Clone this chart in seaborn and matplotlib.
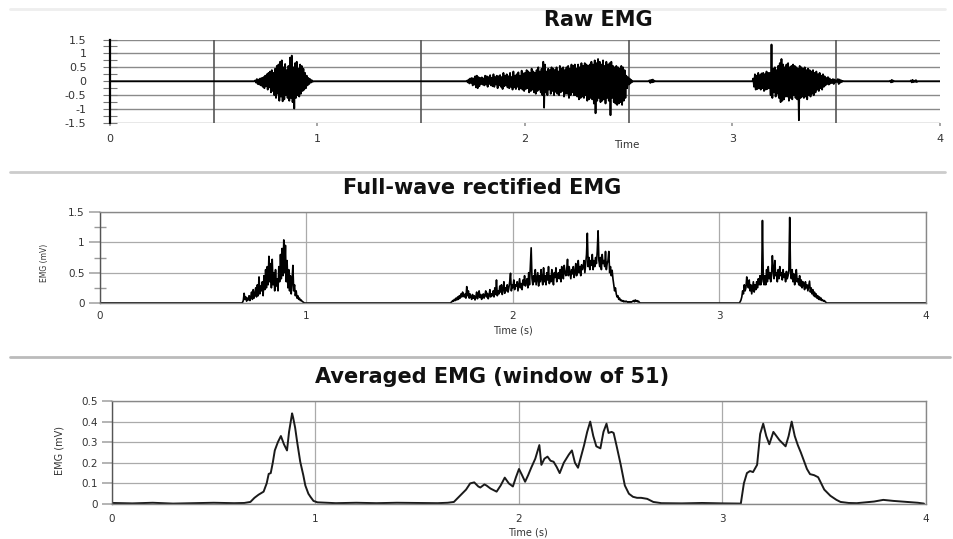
import numpy as np
import pandas as pd
import matplotlib
matplotlib.use("Agg")
import matplotlib.pyplot as plt
import seaborn as sns
from matplotlib.lines import Line2D
from matplotlib.ticker import MultipleLocator, FuncFormatter

# ---------------- data ----------------
DT = 0.004  # sample interval of the bursts (s)

# Raw EMG: bursts (start time, samples) plus small blips; baseline is 0
raw_starts = [0.70, 1.72, 2.60, 3.10, 3.76, 3.86]
raw_burst_1 = [0.03, -0.05, 0.08, -0.1, 0.06, -0.12, 0.1, -0.15, 0.12, -0.2,
               0.15, -0.25, 0.2, -0.18, 0.25, -0.3, 0.3, -0.22, 0.35, -0.4,
               0.4, -0.35, 0.3, -0.5, 0.45, -0.6, 0.55, -0.45, 0.6, -0.7,
               0.7, -0.55, 0.75, -0.72, 0.5, -0.65, 0.62, -0.5, 0.4, -0.6,
               0.55, -0.7, 0.85, -0.6, 0.92, -0.75, 0.5, -0.98, 0.65, -0.6,
               0.7, -0.5, 0.45, -0.55, 0.6, -0.45, 0.55, -0.35, 0.45, -0.3,
               0.3, -0.25, 0.2, -0.15, 0.12, -0.1, 0.08, -0.05, 0.04, -0.02]
raw_burst_2 = [0.02, -0.04, 0.06, -0.08, 0.1, -0.06, 0.12, -0.15, 0.1, -0.12,
               0.18, -0.22, 0.2, -0.25, 0.15, -0.18, 0.12, -0.1, 0.14, -0.12,
               0.1, -0.15, 0.2, -0.12, 0.18, -0.2, 0.15, -0.1, 0.22, -0.15,
               0.12, -0.18, 0.25, -0.2, 0.15, -0.12, 0.2, -0.25, 0.18, -0.15,
               0.22, -0.2, 0.15, -0.28, 0.3, -0.18, 0.2, -0.15, 0.25, -0.22,
               0.18, -0.25, 0.3, -0.2, 0.15, -0.3, 0.35, -0.22, 0.2, -0.28,
               0.25, -0.2, 0.32, -0.3, 0.2, -0.25, 0.38, -0.3, 0.28, -0.35,
               0.3, -0.28, 0.4, -0.25, 0.35, -0.4, 0.3, -0.35, 0.45, -0.3,
               0.35, -0.4, 0.3, -0.45, 0.4, -0.35, 0.5, -0.3, 0.35, -0.4,
               0.45, -0.5, 0.7, -0.95, 0.6, -0.4, 0.35, -0.5, 0.45, -0.3,
               0.4, -0.45, 0.5, -0.35, 0.45, -0.5, 0.4, -0.38, 0.5, -0.45,
               0.35, -0.5, 0.55, -0.4, 0.45, -0.35, 0.5, -0.55, 0.4, -0.45,
               0.5, -0.45, 0.55, -0.6, 0.45, -0.5, 0.6, -0.4, 0.55, -0.5,
               0.6, -0.5, 0.45, -0.55, 0.6, -0.65, 0.5, -0.6, 0.65, -0.55,
               0.55, -0.6, 0.65, -0.5, 0.6, -0.7, 0.55, -0.65, 0.6, -0.6,
               0.7, -0.65, 0.6, -0.8, 0.75, -1.15, 0.65, -0.7, 0.8, -0.6,
               0.7, -0.75, 0.6, -0.7, 0.75, -0.65, 0.55, -0.8, 0.7, -0.6,
               0.6, -0.7, 0.65, -1.22, 0.7, -0.6, 0.55, -0.75, 0.5, -0.8,
               0.55, -0.85, 0.5, -0.8, 0.45, -0.75, 0.55, -0.85, 0.5, -0.7,
               0.4, -0.6, 0.2, -0.25, 0.15, -0.12, 0.1, -0.08, 0.05, -0.03]
raw_blip_a = [0.03, -0.06, 0.05, -0.04, 0.06, -0.03, 0.02]
raw_burst_3 = [0.1, -0.2, 0.25, -0.3, 0.2, -0.28, 0.3, -0.25, 0.22, -0.3,
               0.28, -0.25, 0.3, -0.35, 0.25, -0.3, 0.35, -0.28, 0.3, -0.25,
               0.3, -0.5, 1.32, -0.6, 0.45, -0.4, 0.5, -0.55, 0.4, -0.45,
               0.55, -0.6, 0.65, -0.75, 0.8, -0.7, 0.6, -0.65, 0.5, -0.55,
               0.6, -0.55, 0.65, -0.7, 0.5, -0.6, 0.55, -0.65, 0.6, -0.5,
               0.55, -0.6, 0.5, -0.65, 0.45, -1.4, 0.55, -0.6, 0.5, -0.55,
               0.45, -0.6, 0.5, -0.55, 0.4, -0.65, 0.45, -0.5, 0.4, -0.55,
               0.35, -0.45, 0.4, -0.5, 0.3, -0.4, 0.35, -0.3, 0.25, -0.35,
               0.3, -0.25, 0.2, -0.3, 0.25, -0.2, 0.18, -0.15, 0.12, -0.1,
               0.15, -0.12, 0.1, -0.08, 0.05, -0.06, 0.08, -0.1, 0.06, -0.04,
               0.03, -0.02, 0.08, -0.1, 0.06, -0.05, 0.03, -0.02, 0.01, 0.0]
raw_blip_b = [0.02, -0.04, 0.05, -0.03, 0.02]
raw_blip_c = [0.03, -0.04, 0.05, -0.03, 0.02, -0.02, 0.04, -0.03]
raw_bursts = [raw_burst_1, raw_burst_2, raw_blip_a, raw_burst_3, raw_blip_b, raw_blip_c]

# Full-wave rectified EMG
rect_starts = [0.69, 1.70, 3.10]
rect_burst_1 = [0.01, 0.04, 0.16, 0.06, 0.1, 0.03, 0.08, 0.05, 0.12, 0.04,
                0.1, 0.18, 0.06, 0.22, 0.08, 0.15, 0.25, 0.1, 0.3, 0.12,
                0.43, 0.15, 0.28, 0.2, 0.35, 0.12, 0.45, 0.22, 0.55, 0.25,
                0.6, 0.3, 0.77, 0.35, 0.65, 0.25, 0.72, 0.3, 0.5, 0.2,
                0.55, 0.28, 0.4, 0.2, 0.6, 0.35, 0.8, 0.4, 0.9, 0.45,
                1.04, 0.5, 0.95, 0.35, 0.7, 0.25, 0.55, 0.2, 0.45, 0.15,
                0.35, 0.62, 0.2, 0.3, 0.12, 0.2, 0.08, 0.12, 0.06, 0.08,
                0.04, 0.05, 0.03, 0.02, 0.01]
rect_burst_2 = [0.01, 0.02, 0.04, 0.03, 0.06, 0.04, 0.08, 0.05, 0.1, 0.06,
                0.12, 0.08, 0.15, 0.1, 0.18, 0.12, 0.1, 0.15, 0.08, 0.27,
                0.12, 0.2, 0.08, 0.15, 0.1, 0.06, 0.14, 0.08, 0.12, 0.05,
                0.1, 0.18, 0.07, 0.12, 0.2, 0.09, 0.14, 0.06, 0.11, 0.15,
                0.08, 0.13, 0.2, 0.1, 0.16, 0.07, 0.12, 0.22, 0.1, 0.15,
                0.12, 0.2, 0.1, 0.25, 0.14, 0.38, 0.12, 0.2, 0.15, 0.28,
                0.18, 0.3, 0.14, 0.22, 0.35, 0.16, 0.25, 0.2, 0.3, 0.18,
                0.25, 0.35, 0.49, 0.2, 0.3, 0.25, 0.38, 0.22, 0.3, 0.28,
                0.35, 0.2, 0.3, 0.4, 0.25, 0.32, 0.22, 0.38, 0.3, 0.45,
                0.28, 0.35, 0.4, 0.25, 0.5, 0.3, 0.6, 0.91, 0.4, 0.3,
                0.45, 0.35, 0.55, 0.3, 0.4, 0.5, 0.28, 0.45, 0.35, 0.55,
                0.4, 0.3, 0.58, 0.35, 0.45, 0.3, 0.5, 0.38, 0.6, 0.32,
                0.45, 0.35, 0.55, 0.4, 0.3, 0.5, 0.42, 0.58, 0.35, 0.45,
                0.5, 0.4, 0.55, 0.35, 0.6, 0.45, 0.4, 0.62, 0.5, 0.45,
                0.55, 0.72, 0.45, 0.6, 0.5, 0.4, 0.55, 0.48, 0.6, 0.42,
                0.5, 0.65, 0.45, 0.55, 0.7, 0.5, 0.6, 0.45, 0.63, 0.55,
                0.6, 0.7, 0.5, 0.65, 0.8, 1.15, 0.6, 0.75, 0.55, 0.7,
                0.62, 0.8, 0.55, 0.7, 0.6, 0.75, 0.65, 0.85, 1.19, 0.7,
                0.6, 0.75, 0.55, 0.8, 0.65, 0.7, 0.6, 0.85, 0.55, 0.65,
                0.7, 0.85, 0.5, 0.6, 0.45, 0.54, 0.4, 0.3, 0.2, 0.25,
                0.15, 0.1, 0.12, 0.06, 0.08, 0.04, 0.05, 0.03, 0.04, 0.02,
                0.03, 0.02, 0.03, 0.02, 0.01, 0.02, 0.01, 0.02, 0.01, 0.02,
                0.03, 0.04, 0.02, 0.05, 0.03, 0.04, 0.02, 0.03, 0.01, 0.0]
rect_burst_3 = [0.02, 0.05, 0.1, 0.2, 0.15, 0.3, 0.2, 0.25, 0.43, 0.3,
                0.25, 0.38, 0.2, 0.3, 0.15, 0.25, 0.35, 0.18, 0.3, 0.22,
                0.35, 0.25, 0.4, 0.3, 0.45, 0.3, 0.35, 1.36, 0.4, 0.3,
                0.45, 0.3, 0.55, 0.35, 0.6, 0.4, 0.5, 0.35, 0.45, 0.78,
                0.55, 0.4, 0.7, 0.45, 0.5, 0.35, 0.55, 0.4, 0.6, 0.45,
                0.5, 0.38, 0.55, 0.42, 0.48, 0.35, 0.52, 0.4, 0.45, 0.55,
                1.41, 0.5, 0.4, 0.55, 0.35, 0.48, 0.3, 0.45, 0.55, 0.35,
                0.4, 0.3, 0.45, 0.28, 0.38, 0.25, 0.35, 0.3, 0.22, 0.35,
                0.25, 0.3, 0.2, 0.28, 0.36, 0.18, 0.25, 0.15, 0.22, 0.12,
                0.18, 0.1, 0.15, 0.08, 0.12, 0.06, 0.1, 0.05, 0.08, 0.04,
                0.05, 0.03, 0.04, 0.02, 0.01, 0.0]
rect_bursts = [rect_burst_1, rect_burst_2, rect_burst_3]

# Averaged EMG (window of 51): time / value pairs
avg_t = [0.0, 0.1, 0.2, 0.3, 0.4, 0.5, 0.6, 0.65, 0.68, 0.70, 0.72, 0.745, 0.76, 0.77,
         0.78, 0.79, 0.80, 0.815, 0.83, 0.845, 0.86, 0.87, 0.885, 0.89, 0.90, 0.91,
         0.925, 0.94, 0.95, 0.965, 0.975, 0.99, 1.01, 1.1, 1.2, 1.3, 1.4, 1.5, 1.6,
         1.65, 1.68, 1.71, 1.74, 1.76, 1.78, 1.80, 1.81, 1.83, 1.84, 1.86, 1.89, 1.91,
         1.93, 1.95, 1.97, 1.985, 2.00, 2.015, 2.03, 2.045, 2.06, 2.08, 2.10, 2.11,
         2.125, 2.14, 2.155, 2.17, 2.185, 2.20, 2.22, 2.245, 2.26, 2.275, 2.29, 2.305,
         2.32, 2.335, 2.35, 2.365, 2.38, 2.40, 2.415, 2.43, 2.44, 2.455, 2.465, 2.48,
         2.50, 2.52, 2.54, 2.56, 2.58, 2.60, 2.63, 2.66, 2.70, 2.8, 2.9, 3.0, 3.09,
         3.105, 3.12, 3.135, 3.15, 3.17, 3.185, 3.20, 3.215, 3.23, 3.25, 3.265, 3.28,
         3.31, 3.325, 3.34, 3.355, 3.37, 3.385, 3.40, 3.415, 3.43, 3.45, 3.47, 3.485,
         3.50, 3.53, 3.56, 3.58, 3.62, 3.66, 3.70, 3.745, 3.79, 3.84, 3.88, 3.91,
         3.96, 3.99]
avg_v = [0.005, 0.003, 0.006, 0.002, 0.004, 0.006, 0.004, 0.005, 0.01, 0.03, 0.045, 0.06,
         0.1, 0.146, 0.15, 0.2, 0.26, 0.3, 0.33, 0.29, 0.26, 0.35, 0.44, 0.42, 0.37, 0.3,
         0.205, 0.14, 0.09, 0.05, 0.035, 0.015, 0.008, 0.004, 0.006, 0.004, 0.006, 0.005,
         0.004, 0.006, 0.01, 0.04, 0.07, 0.1, 0.105, 0.085, 0.08, 0.095, 0.09, 0.075, 0.06,
         0.09, 0.128, 0.1, 0.085, 0.13, 0.17, 0.14, 0.108, 0.14, 0.176, 0.22, 0.286, 0.19,
         0.22, 0.23, 0.21, 0.205, 0.18, 0.15, 0.2, 0.24, 0.26, 0.2, 0.176, 0.23, 0.286,
         0.35, 0.40, 0.33, 0.28, 0.27, 0.35, 0.39, 0.345, 0.35, 0.345, 0.28, 0.19, 0.09,
         0.05, 0.035, 0.03, 0.03, 0.025, 0.01, 0.004, 0.003, 0.005, 0.003, 0.002, 0.1,
         0.15, 0.16, 0.155, 0.19, 0.34, 0.39, 0.33, 0.29, 0.35, 0.33, 0.31, 0.28, 0.33,
         0.40, 0.33, 0.286, 0.25, 0.21, 0.17, 0.145, 0.14, 0.13, 0.1, 0.07, 0.04, 0.02,
         0.01, 0.005, 0.004, 0.008, 0.012, 0.02, 0.015, 0.012, 0.01, 0.006, 0.002]

x_ticks = [0, 1, 2, 3, 4]
raw_yticks = [-1.5, -1, -0.5, 0, 0.5, 1, 1.5]
raw_markers = [0.5, 1.5, 2.5, 3.5]
rect_yticks = [0, 0.5, 1, 1.5]
avg_yticks = [0, 0.1, 0.2, 0.3, 0.4, 0.5]


def assemble(starts, bursts, t_end=4.0):
    """Join the bursts into one series, resting at 0 between them."""
    t, v = [0.0], [0.0]
    for s, b in sorted(zip(starts, bursts), key=lambda p: p[0]):
        seg_t = s + DT * np.arange(len(b))
        t.append(s - DT)
        v.append(0.0)
        t.extend(seg_t)
        v.extend(b)
        t.append(seg_t[-1] + DT)
        v.append(0.0)
    t.append(t_end)
    v.append(0.0)
    return pd.DataFrame({"Time": t, "EMG": v})


raw_df = assemble(raw_starts, raw_bursts)
rect_df = assemble(rect_starts, rect_bursts)
avg_df = pd.DataFrame({"Time": avg_t, "EMG": avg_v})

# ---------------- figure ----------------
sns.set_theme(style="white")
plt.rcParams["font.family"] = ["DejaVu Sans"]
plt.rcParams["axes.unicode_minus"] = False

W, H = 954, 539
fig = plt.figure(figsize=(W / 100, H / 100), dpi=100)


def px_axes(x0, y0, x1, y1):
    return fig.add_axes([x0 / W, 1 - y1 / H, (x1 - x0) / W, (y1 - y0) / H])


fmt = FuncFormatter(lambda v, p: f"{v:g}")
tick_col = "#333333"

# ---- Panel 1: Raw EMG ----
ax1 = px_axes(110, 39.5, 940, 123)
sns.lineplot(data=raw_df, x="Time", y="EMG", ax=ax1, color="black",
             linewidth=1.3, estimator=None, sort=False)
ax1.set_xlim(0, 4)
ax1.set_ylim(-1.5, 1.5)
ax1.set_yticks(raw_yticks)
ax1.yaxis.set_minor_locator(MultipleLocator(0.25))
ax1.yaxis.set_major_formatter(fmt)
ax1.set_xticks(x_ticks)
ax1.xaxis.set_major_formatter(fmt)
for y in raw_yticks:
    ax1.axhline(y, color="#8a8a8a", linewidth=1.0, zorder=0)
for xm in raw_markers:
    ax1.axvline(xm, color="#555555", linewidth=1.2, zorder=1)
for s in ["top", "right", "bottom"]:
    ax1.spines[s].set_visible(False)
ax1.spines["left"].set_color("black")
ax1.spines["left"].set_linewidth(1.6)
ax1.tick_params(axis="y", which="both", direction="inout", length=10, width=0.8,
                color="#777777", labelsize=8, labelcolor=tick_col, pad=12, left=True)
ax1.tick_params(axis="x", length=2, color="#999999", labelsize=8, labelcolor=tick_col, pad=6, bottom=True)
ax1.set_xlabel("Time", fontsize=7.5, color=tick_col)
ax1.xaxis.set_label_coords(0.623, -0.2)
ax1.set_ylabel("")

# ---- Panel 2: Full-wave rectified EMG ----
ax2 = px_axes(100, 212, 926, 303)
sns.lineplot(data=rect_df, x="Time", y="EMG", ax=ax2, color="black",
             linewidth=1.2, estimator=None, sort=False)
ax2.set_xlim(0, 4)
ax2.set_ylim(0, 1.5)
ax2.set_yticks(rect_yticks)
ax2.yaxis.set_minor_locator(MultipleLocator(0.25))
ax2.yaxis.set_major_formatter(fmt)
ax2.set_xticks(x_ticks)
ax2.xaxis.set_major_formatter(fmt)
ax2.grid(True, which="major", color="#aaaaaa", linewidth=0.9)
ax2.set_axisbelow(True)
for s in ax2.spines.values():
    s.set_color("#888888")
    s.set_linewidth(1.0)
ax2.spines["left"].set_color("#555555")
ax2.tick_params(axis="y", which="major", direction="out", length=8, color="#aaaaaa",
                labelsize=7.5, labelcolor=tick_col, pad=3, left=True)
ax2.tick_params(axis="y", which="minor", direction="inout", length=8, color="#999999", left=True)
ax2.tick_params(axis="x", length=0, labelsize=7.5, labelcolor=tick_col, pad=6)
ax2.set_xlabel("Time (s)", fontsize=7, color=tick_col)
ax2.xaxis.set_label_coords(0.5, -0.25)
ax2.set_ylabel("EMG (mV)", fontsize=5.5, color=tick_col)
ax2.yaxis.set_label_coords(-0.062, 0.44)

# ---- Panel 3: Averaged EMG ----
ax3 = px_axes(112, 401, 926, 504)
sns.lineplot(data=avg_df, x="Time", y="EMG", ax=ax3, color="#1a1a1a",
             linewidth=1.4, estimator=None, sort=False)
ax3.set_xlim(0, 4)
ax3.set_ylim(0, 0.5)
ax3.set_yticks(avg_yticks)
ax3.yaxis.set_major_formatter(fmt)
ax3.set_xticks(x_ticks)
ax3.xaxis.set_major_formatter(fmt)
ax3.grid(True, which="major", color="#aaaaaa", linewidth=0.9)
ax3.set_axisbelow(True)
for s in ax3.spines.values():
    s.set_color("#888888")
    s.set_linewidth(1.0)
ax3.spines["left"].set_color("#555555")
ax3.tick_params(axis="y", direction="out", length=7, color="#aaaaaa",
                labelsize=7.5, labelcolor=tick_col, pad=3, left=True)
ax3.tick_params(axis="x", length=0, labelsize=7.5, labelcolor=tick_col, pad=7)
ax3.set_xlabel("Time (s)", fontsize=7, color=tick_col)
ax3.xaxis.set_label_coords(0.511, -0.225)
ax3.set_ylabel("EMG (mV)", fontsize=7, color=tick_col)
ax3.yaxis.set_label_coords(-0.058, 0.52)

# ---- titles ----
fig.text(598 / W, 1 - 20 / H, "Raw EMG", ha="center", va="center",
         fontsize=15, fontweight="bold", color="#111111")
fig.text(482 / W, 1 - 188 / H, "Full-wave rectified EMG", ha="center", va="center",
         fontsize=15, fontweight="bold", color="#111111")
fig.text(492 / W, 1 - 377 / H, "Averaged EMG (window of 51)", ha="center", va="center",
         fontsize=15, fontweight="bold", color="#111111")

# ---- separator lines between the panels ----
fig.add_artist(Line2D([10 / W, 945 / W], [1 - 9 / H, 1 - 9 / H], color="#eeeeee", linewidth=2))
fig.add_artist(Line2D([10 / W, 945 / W], [1 - 172 / H, 1 - 172 / H], color="#cccccc", linewidth=2))
fig.add_artist(Line2D([10 / W, 950 / W], [1 - 357 / H, 1 - 357 / H], color="#bbbbbb", linewidth=2))

fig.savefig("out.png", dpi=100, facecolor="white")
